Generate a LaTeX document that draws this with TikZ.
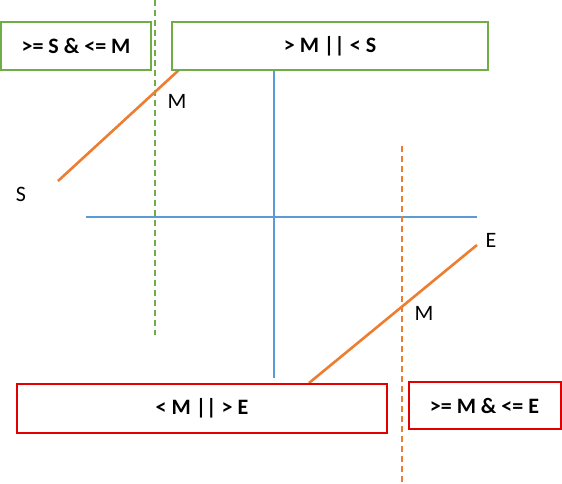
\documentclass[tikz,border=0pt]{standalone}
\usepackage{fontspec}
\setmainfont{Carlito}
\definecolor{xgreen}{HTML}{70AD47}
\definecolor{xblue}{HTML}{5B9BD5}
\definecolor{xorange}{HTML}{ED7D31}
\definecolor{xred}{HTML}{E00000}
\begin{document}
\begin{tikzpicture}[x=1pt,y=-1pt,
  gbox/.style={draw=xgreen,line width=2pt,fill=white,font=\fontsize{22}{26}\selectfont\bfseries},
  rbox/.style={draw=xred,line width=2pt,fill=white,font=\fontsize{22}{26}\selectfont\bfseries},
  lbl/.style={font=\fontsize{22}{26}\selectfont},
  sline/.style={line width=2.6pt},
  dline/.style={line width=1.6pt,dash pattern=on 6pt off 4pt}]
\useasboundingbox (0,0) rectangle (562,484);
% axes
\coordinate (vt) at (274,70);
\coordinate (vb) at (274,378);
\coordinate (hl) at (86,217);
\coordinate (hr) at (477,217);
\draw[sline,xblue] (vt) -- (vb);
\draw[sline,xblue] (hl) -- (hr);
% dashed
\coordinate (gd1) at (155,0);
\coordinate (gd2) at (155,335);
\draw[dline,xgreen] (gd1) -- (gd2);
\coordinate (od1) at (402,146);
\coordinate (od2) at (402,484);
\draw[dline,xorange] (od1) -- (od2);
% orange lines
\coordinate (s1) at (58,181);
\coordinate (s2) at (180,69);
\draw[sline,xorange] (s1) -- (s2);
\coordinate (e1) at (309,383);
\coordinate (e2) at (477,245);
\draw[sline,xorange] (e1) -- (e2);
% boxes
\node[gbox,minimum width=150pt,minimum height=48pt,inner sep=0pt] (b1) at (76,46) {>= S \& <= M};
\node[gbox,minimum width=316pt,minimum height=48pt,inner sep=0pt] (b2) at (330,46) {> M || < S};
\node[rbox,minimum width=370pt,minimum height=49pt,inner sep=0pt] (b3) at (202,408.5) {< M || > E};
\node[rbox,minimum width=152pt,minimum height=47pt,inner sep=0pt] (b4) at (484.5,405.5) {>= M \& <= E};
% labels
\node[lbl] (lm1) at (177,101) {M};
\node[lbl] (ls) at (21,194) {S};
\node[lbl] (le) at (491,240) {E};
\node[lbl] (lm2) at (424,313) {M};
\end{tikzpicture}
\end{document}
